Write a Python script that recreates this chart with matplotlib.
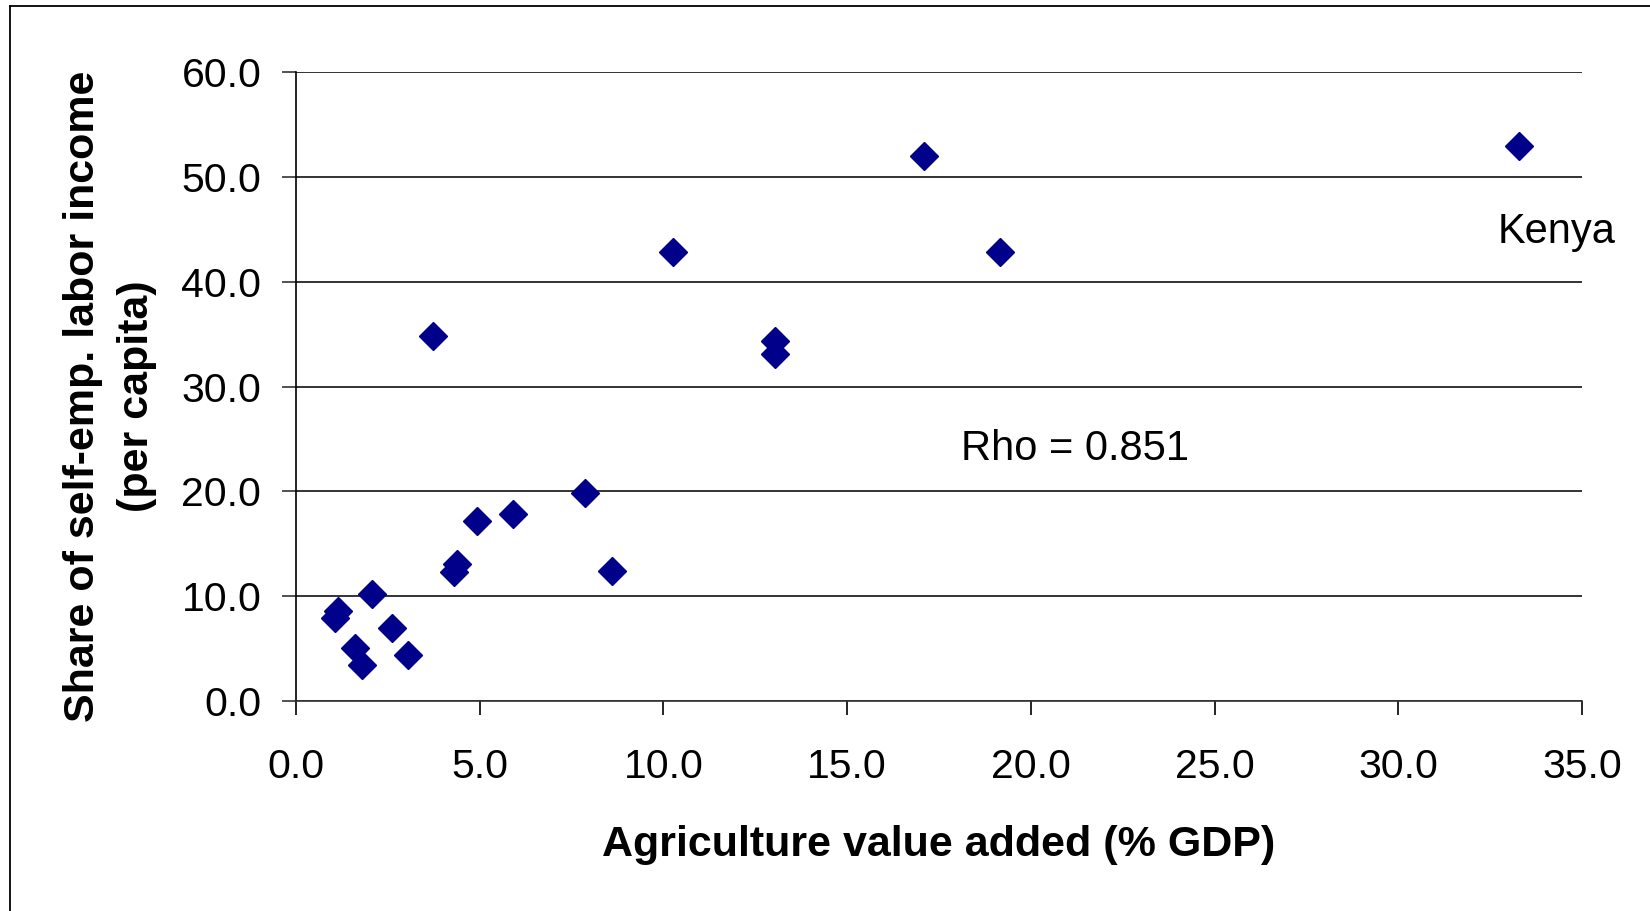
import matplotlib.pyplot as plt
from matplotlib.lines import Line2D

# agriculture value added (% GDP) vs share of self-employment labor income
agri_va = [1.15, 1.07, 2.06, 1.61, 1.79, 2.60, 3.05, 4.38, 4.29, 4.93,
           5.90, 7.87, 8.59, 3.72, 10.27, 13.05, 13.05, 17.09, 19.15, 33.29]
self_emp_share = [8.6, 7.9, 10.2, 5.1, 3.4, 7.0, 4.4, 13.1, 12.3, 17.2,
                  17.8, 19.8, 12.4, 34.8, 42.8, 34.3, 33.1, 52.0, 42.8, 52.9]

x_ticks = [0, 5, 10, 15, 20, 25, 30, 35]
y_ticks = [0, 10, 20, 30, 40, 50, 60]

plt.rcParams['font.family'] = ['Liberation Sans', 'DejaVu Sans']

W, H = 1650, 911
fig = plt.figure(figsize=(W / 100, H / 100), dpi=100)
ax = fig.add_axes([296 / W, 1 - 701 / H, (1582 - 296) / W, (701 - 72) / H])

ax.plot(agri_va, self_emp_share, linestyle="none", marker="D", markersize=14.5,
        color="#00008B", markeredgecolor="#00008B", markeredgewidth=1, zorder=3)

ax.set_xlim(0, 35)
ax.set_ylim(0, 60)
ax.set_xticks(x_ticks)
ax.set_yticks(y_ticks)
ax.set_xticklabels([f"{v:.1f}" for v in x_ticks])
ax.set_yticklabels([f"{v:.1f}" for v in y_ticks])
ax.tick_params(axis="x", direction="out", length=10, width=1.2, pad=24, labelsize=29.5)
ax.tick_params(axis="y", direction="out", length=10, width=1.2, pad=15, labelsize=29.5,
               color="#333333")

ax.grid(axis="y", color="#333333", linewidth=1.4)
ax.set_axisbelow(True)
for side in ["top", "right"]:
    ax.spines[side].set_visible(False)
ax.spines["left"].set_linewidth(1.2)
ax.spines["bottom"].set_linewidth(1.2)
ax.spines["bottom"].set_color("#333333")

ax.set_xlabel("Agriculture value added (% GDP)", fontsize=31, fontweight="bold", labelpad=28)
ax.set_ylabel("Share of self-emp. labor income\n(per capita)", fontsize=31,
              fontweight="bold", linespacing=1.45)
ax.yaxis.set_label_coords(-0.108, 0.485)

ax.text(34.3, 44.7, "Kenya", fontsize=30, ha="center", va="center", clip_on=False)
ax.text(21.2, 24.0, "Rho = 0.851", fontsize=30, ha="center", va="center")

# outer frame of the chart area
fig.add_artist(Line2D([9.5 / W, 9.5 / W], [0, 1 - 5.5 / H], color="black", linewidth=1.3,
                      transform=fig.transFigure))
fig.add_artist(Line2D([9.5 / W, 1], [1 - 5.5 / H, 1 - 5.5 / H], color="black", linewidth=1.3,
                      transform=fig.transFigure))

fig.savefig("out.png", dpi=100)
